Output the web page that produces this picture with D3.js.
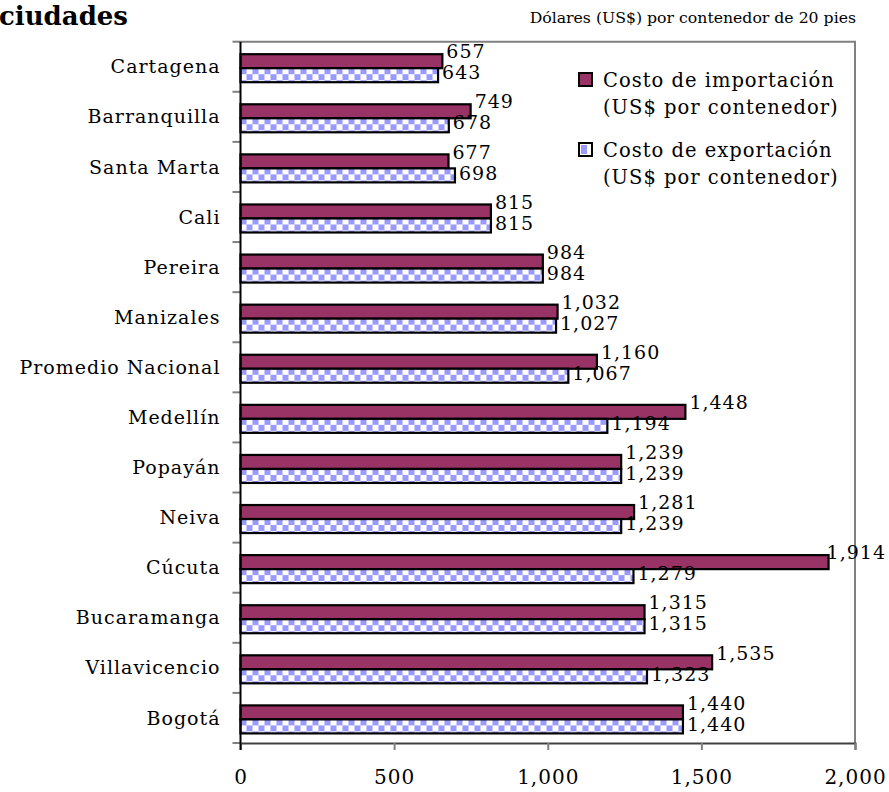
<!DOCTYPE html>
<html>
<head>
<meta charset="utf-8">
<title>Costo de importación y exportación</title>
<style>
body {
  margin: 0;
  background: #fff;
}
svg text {
  font-family: "DejaVu Serif", serif;
  fill: #000;
}
.num, .cat, .leg {
  letter-spacing: 1px;
}
</style>
</head>
<body>
<svg id="chart" width="889" height="792"></svg>
<script src="https://cdn.jsdelivr.net/npm/d3@7"></script>
<script>

// --- data, top to bottom ---
let cities = ["Cartagena", "Barranquilla", "Santa Marta", "Cali", "Pereira", "Manizales",
  "Promedio Nacional", "Medellín", "Popayán", "Neiva", "Cúcuta", "Bucaramanga",
  "Villavicencio", "Bogotá"];
let importCost = [657, 749, 677, 815, 984, 1032, 1160, 1448, 1239, 1281, 1914, 1315, 1535, 1440];
let exportCost = [643, 678, 698, 815, 984, 1027, 1067, 1194, 1239, 1239, 1279, 1315, 1323, 1440];
let xTicks = [0, 500, 1000, 1500, 2000];
let seriesNames = [
  ["Costo de importación", "(US$ por contenedor)"],
  ["Costo de exportación", "(US$ por contenedor)"]
];

let margin = {top: 41.7, right: 34, bottom: 49, left: 240.5},
    width = 889 - margin.left - margin.right,
    height = 792 - margin.top - margin.bottom;

let svg = d3.select("#chart");
let fmt = d3.format(",");

let barH = 14, off = 12.5;

// checker fill for exports
let pat = svg.append("defs").append("pattern")
    .attr("id", "checker")
    .attr("patternUnits", "userSpaceOnUse")
    .attr("y", off + barH)
    .attr("width", 12).attr("height", 12);
pat.append("rect").attr("width", 12).attr("height", 12).attr("fill", "#fff");
pat.append("rect").attr("width", 6).attr("height", 6).attr("fill", "#9999ff");
pat.append("rect").attr("x", 6).attr("y", 6).attr("width", 6).attr("height", 6).attr("fill", "#9999ff");

let x = d3.scaleLinear().domain([0, 2000]).range([0, width]);
let y = d3.scaleBand().domain(cities).range([0, height]);

let g = svg.append("g")
    .attr("transform", "translate(" + margin.left + "," + margin.top + ")");

// frame: top and right in gray
g.append("path")
    .attr("d", "M0,0H" + width + "V" + height)
    .attr("fill", "none")
    .attr("stroke", "#808080")
    .attr("stroke-width", 2);

// y ticks at band boundaries
let bounds = d3.range(cities.length + 1).map(function(i) { return i * y.step(); });
g.selectAll(".ytick")
  .data(bounds)
  .enter().append("line")
    .attr("x1", -8).attr("x2", 0)
    .attr("y1", function(d) { return d; })
    .attr("y2", function(d) { return d; })
    .attr("stroke", "#808080")
    .attr("stroke-width", 2);

// x axis
let xAxis = d3.axisBottom(x)
    .tickValues(xTicks)
    .tickSize(7)
    .tickPadding(20)
    .tickFormat(fmt);

let gx = g.append("g")
    .attr("transform", "translate(0," + height + ")")
    .call(xAxis);
gx.select(".domain").attr("stroke", "#404040").attr("stroke-width", 2);
gx.selectAll(".tick line").attr("stroke", "#808080").attr("stroke-width", 2);
gx.selectAll(".tick text")
    .attr("class", "num")
    .attr("font-family", null)
    .attr("font-size", 20)
    .attr("fill", "#000");

// category labels
g.selectAll(".cat")
  .data(cities)
  .enter().append("text")
    .attr("class", "cat")
    .attr("x", -20)
    .attr("y", function(d) { return y(d) + y.bandwidth() / 2; })
    .attr("dy", "0.35em")
    .attr("text-anchor", "end")
    .attr("font-size", 19)
    .text(function(d) { return d; });

// bars
let rows = cities.map(function(c, i) {
  return {city: c, imp: importCost[i], exp: exportCost[i]};
});

let row = g.selectAll(".row")
  .data(rows)
  .enter().append("g")
    .attr("class", "row")
    .attr("transform", function(d) { return "translate(0," + y(d.city) + ")"; });

row.append("rect")
    .attr("x", 0)
    .attr("y", off)
    .attr("width", function(d) { return x(d.imp); })
    .attr("height", barH)
    .attr("fill", "#993366")
    .attr("stroke", "#000")
    .attr("stroke-width", 2.2);

row.append("rect")
    .attr("x", 0)
    .attr("y", off + barH)
    .attr("width", function(d) { return x(d.exp); })
    .attr("height", barH)
    .attr("fill", "url(#checker)")
    .attr("stroke", "#000")
    .attr("stroke-width", 2.2);

// value labels
let mid = y.bandwidth() / 2;
let maxRight = 889 - margin.left - 3;

function placeLabel(sel, key, dyPos) {
  sel.append("text")
      .attr("class", "num")
      .attr("y", mid + dyPos)
      .attr("dy", "0.35em")
      .attr("font-size", 19)
      .text(function(d) { return fmt(d[key]); })
      .attr("x", function(d) {
        let w = this.getComputedTextLength();
        return Math.min(x(d[key]) + 4, maxRight - w);
      });
}
placeLabel(row, "imp", -15);
placeLabel(row, "exp", 6);

// axis line on the left, drawn over bar edges
g.append("line")
    .attr("x1", 0).attr("x2", 0)
    .attr("y1", 0).attr("y2", height + 7)
    .attr("stroke", "#000")
    .attr("stroke-width", 2);

// legend
let leg = svg.append("g").attr("transform", "translate(579,73)");
let legItem = leg.selectAll(".legItem")
  .data(seriesNames)
  .enter().append("g")
    .attr("transform", function(d, i) { return "translate(0," + (i * 70) + ")"; });

legItem.append("rect")
    .attr("width", 13).attr("height", 13)
    .attr("fill", function(d, i) { return i === 0 ? "#993366" : "#fff"; })
    .attr("stroke", "#000")
    .attr("stroke-width", 2);

legItem.filter(function(d, i) { return i === 1; })
  .append("rect")
    .attr("x", 2).attr("y", 2)
    .attr("width", 6).attr("height", 9)
    .attr("fill", "#9999ff");

legItem.append("text")
    .attr("class", "leg")
    .attr("x", 24).attr("y", 14)
    .attr("font-size", 19.5)
    .text(function(d) { return d[0]; });

legItem.append("text")
    .attr("class", "leg")
    .attr("x", 24).attr("y", 41)
    .attr("font-size", 19.5)
    .text(function(d) { return d[1]; });

// titles
svg.append("text")
    .attr("x", 128).attr("y", 25)
    .attr("text-anchor", "end")
    .attr("font-size", 26)
    .attr("font-weight", "bold")
    .text("ciudades");

svg.append("text")
    .attr("x", 856).attr("y", 23)
    .attr("text-anchor", "end")
    .attr("font-size", 15.7)
    .text("Dólares (US$) por contenedor de 20 pies");

</script>
</body>
</html>
